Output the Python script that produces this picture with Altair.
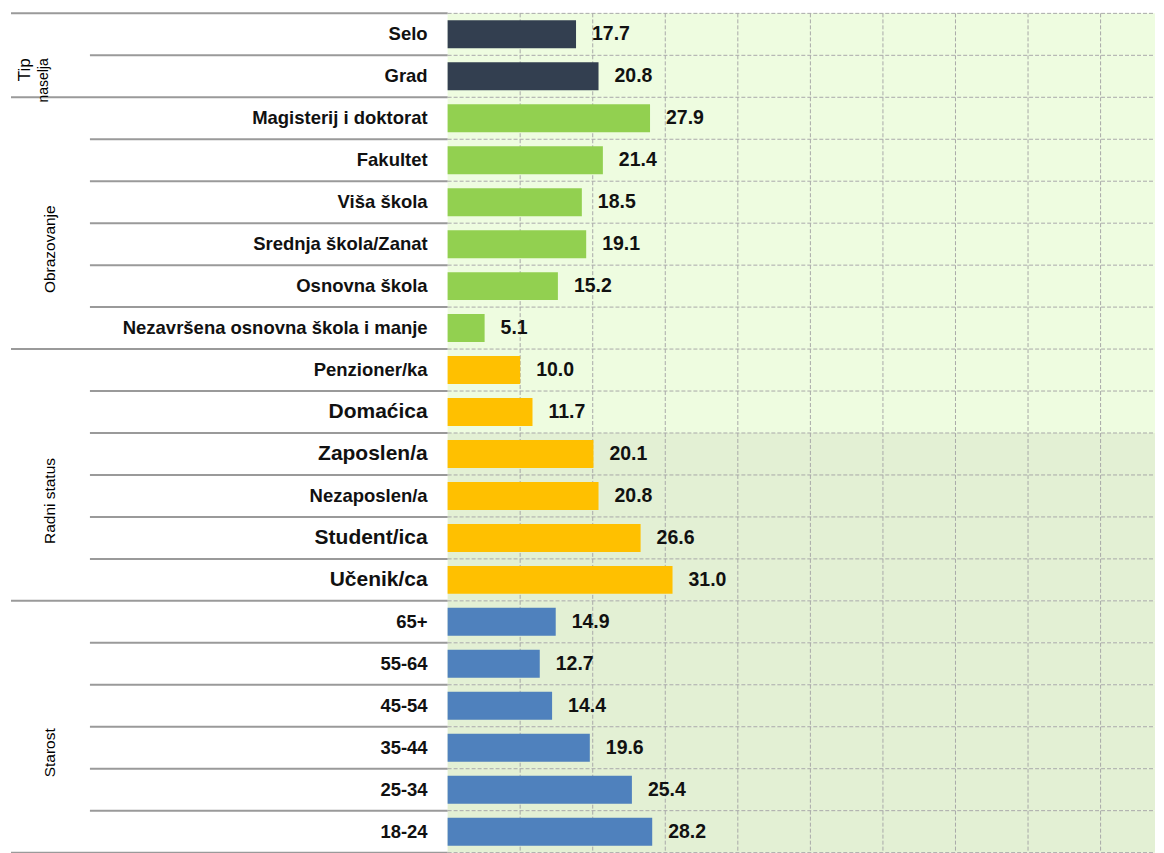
import altair as alt
import pandas as pd

labels = ["Selo", "Grad", "Magisterij i doktorat", "Fakultet", "Viša škola",
          "Srednja škola/Zanat", "Osnovna škola", "Nezavršena osnovna škola i manje",
          "Penzioner/ka", "Domaćica", "Zaposlen/a", "Nezaposlen/a", "Student/ica",
          "Učenik/ca", "65+", "55-64", "45-54", "35-44", "25-34", "18-24"]
values = [17.7, 20.8, 27.9, 21.4, 18.5, 19.1, 15.2, 5.1, 10.0, 11.7,
          20.1, 20.8, 26.6, 31.0, 14.9, 12.7, 14.4, 19.6, 25.4, 28.2]
group_names = ["Tip naselja", "Obrazovanje", "Radni status", "Starost"]
group_sizes = [2, 6, 6, 6]
group_colors = ["#333F50", "#92D050", "#FFC000", "#4F81BD"]
grid_values = [10, 20, 30, 40, 50, 60, 70, 80, 90]
large_labels = ["Domaćica", "Zaposlen/a", "Student/ica", "Učenik/ca"]
shade_from = "Zaposlen/a"

FONT = "Liberation Sans"
W, H = 708, 840
XMAX = 97.5

groups, first = [], []
for g, n in zip(group_names, group_sizes):
    groups += [g] * n
    first += [True] + [False] * (n - 1)
df = pd.DataFrame({"label": labels, "value": values, "group": groups, "first": first})
cut = labels.index(shade_from)
df["shade"] = ["a" if i < cut else "b" for i in range(len(labels))]

# group label anchors
rows = []
start = 0
for g, n in zip(group_names, group_sizes):
    if n > 2:
        rows.append({"gname": g, "anchor": labels[start + n // 2]})
    start += n
gdf = pd.DataFrame(rows)
tip_df = pd.DataFrame({"gname": group_names[0].split(" "), "anchor": [labels[1], labels[1]]})

yscale = alt.Scale(domain=labels, paddingInner=0, paddingOuter=0)
xscale = alt.Scale(domain=[0, XMAX], nice=False, zero=True)


def Y(field="label:N", bp=None):
    if bp is None:
        return alt.Y(field, scale=yscale, axis=None)
    return alt.Y(field, scale=yscale, axis=None, bandPosition=bp)


base = alt.Chart(df)

bg = base.mark_rect().encode(
    y=Y(), x=alt.value(0), x2=alt.value(W),
    color=alt.Color("shade:N", scale=alt.Scale(domain=["a", "b"], range=["#EEFCE0", "#E3F0D4"]), legend=None),
)

hgrid = base.mark_rule(color="#A9A9A9", strokeDash=[4, 2], strokeWidth=1).encode(
    y=Y(bp=0), x=alt.value(0), x2=alt.value(W))
hgrid_bottom = alt.Chart(df.tail(1)).mark_rule(color="#A9A9A9", strokeDash=[4, 2], strokeWidth=1).encode(
    y=Y(bp=1), x=alt.value(0), x2=alt.value(W))

vgrid = alt.Chart(pd.DataFrame({"v": grid_values})).mark_rule(
    color="#A9A9A9", strokeDash=[4, 2], strokeWidth=1).encode(
    x=alt.X("v:Q", scale=xscale, axis=None), y=alt.value(0), y2=alt.value(H))

bars = base.mark_bar(height=28).encode(
    y=Y(),
    x=alt.X("value:Q", scale=xscale, axis=None),
    color=alt.Color("group:N", scale=alt.Scale(domain=group_names, range=group_colors), legend=None),
)

vals = base.mark_text(align="left", baseline="middle", dx=16, font=FONT, fontSize=19.5,
                      fontWeight="bold", color="#111111").encode(
    y=Y(), x=alt.X("value:Q", scale=xscale, axis=None),
    text=alt.Text("value:Q", format=".1f"))

cats = base.mark_text(align="right", baseline="middle", font=FONT, fontWeight="bold",
                      color="#111111").encode(
    y=Y(), x=alt.value(-20), text="label:N",
    size=alt.condition(alt.FieldOneOfPredicate(field="label", oneOf=large_labels),
                       alt.value(21), alt.value(18.5)))

sep_cat = base.transform_filter("!datum.first").mark_rule(color="#9A9A9A", strokeWidth=2).encode(
    y=Y(bp=0), x=alt.value(-358), x2=alt.value(0))
sep_grp = base.transform_filter("datum.first").mark_rule(color="#9A9A9A", strokeWidth=2).encode(
    y=Y(bp=0), x=alt.value(-437), x2=alt.value(0))
sep_bottom = alt.Chart(df.tail(1)).mark_rule(color="#9A9A9A", strokeWidth=2).encode(
    y=Y(bp=1), x=alt.value(-437), x2=alt.value(0))

glabels = alt.Chart(gdf).mark_text(angle=270, align="center", baseline="middle", font=FONT,
                                   fontSize=15.5, color="#000000").encode(
    y=Y("anchor:N", bp=0.62), x=alt.value(-398), text="gname:N")

tip1 = alt.Chart(tip_df.head(1)).mark_text(angle=270, align="right", baseline="middle", font=FONT,
                                           fontSize=17, color="#000000").encode(
    y=Y("anchor:N", bp=0.07), x=alt.value(-423), text="gname:N")
tip2 = alt.Chart(tip_df.tail(1)).mark_text(angle=270, align="right", baseline="middle", font=FONT,
                                           fontSize=14, color="#000000").encode(
    y=Y("anchor:N", bp=0.07), x=alt.value(-404), text="gname:N")

chart = alt.layer(
    bg, vgrid, hgrid, hgrid_bottom, bars, vals, cats, sep_cat, sep_grp, sep_bottom,
    glabels, tip1, tip2
).resolve_scale(color="independent").properties(
    width=W, height=H,
    padding={"left": 2, "top": 4, "right": 0, "bottom": 0},
).configure_view(stroke=None)

chart.save("out.html", embed_options={"renderer": "svg", "actions": False})
